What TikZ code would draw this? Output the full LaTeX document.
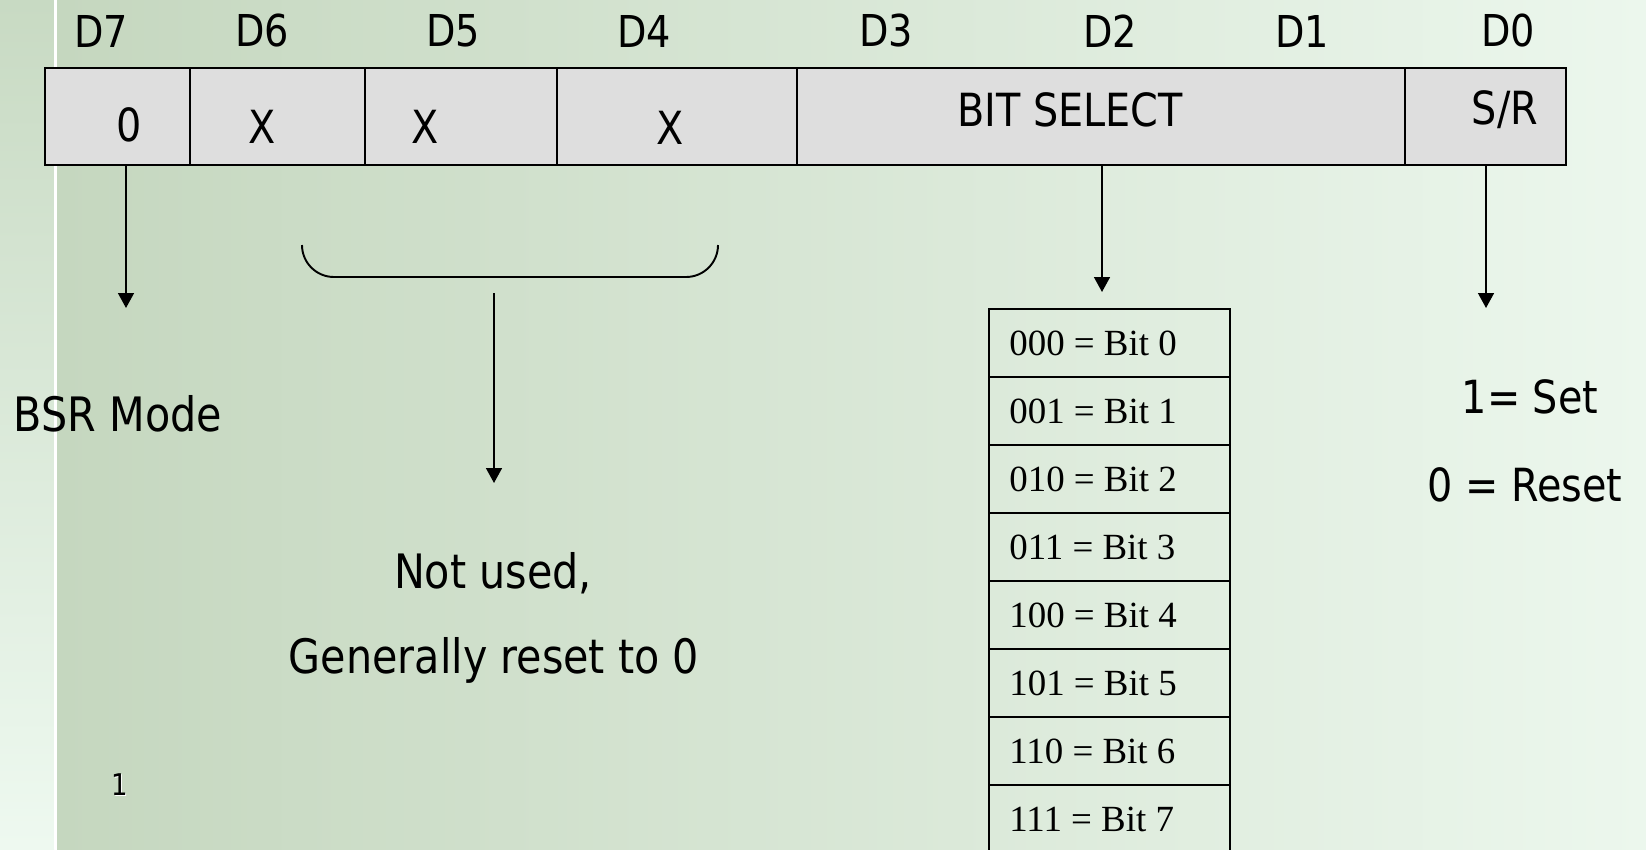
\documentclass[tikz,border=0pt]{standalone}
\usepackage{fontspec}
\setmainfont[FakeStretch=0.87]{DejaVu Sans}
\newfontfamily\tabfont{Liberation Serif}
\usetikzlibrary{arrows.meta,positioning}

\definecolor{bgL}{RGB}{197,215,191}
\definecolor{bgM}{RGB}{212,228,206}
\definecolor{bgR}{RGB}{236,247,237}
\definecolor{stripTop}{RGB}{200,218,195}
\definecolor{stripBot}{RGB}{238,249,240}
\definecolor{cellgray}{RGB}{222,222,222}

\tikzset{
  cell/.style={draw, line width=1.3pt, fill=cellgray, anchor=north west,
    inner sep=0pt, outer sep=0pt, minimum height=1.94cm},
  rowbox/.style={draw, line width=1.3pt, anchor=north west, inner sep=0pt,
    outer sep=0pt, minimum width=4.82cm, minimum height=1.36cm},
  bitlbl/.style={font=\fontsize{25pt}{30pt}\selectfont, inner sep=0pt},
  celltxt/.style={font=\fontsize{26pt}{31pt}\selectfont, inner sep=0pt},
  bigtxt/.style={font=\fontsize{27pt}{32pt}\selectfont, inner sep=0pt},
  rowtxt/.style={font=\tabfont\fontsize{21pt}{25pt}\selectfont, inner sep=0pt, anchor=west},
  arr/.style={-{Triangle[length=8.5pt,width=9pt]}, line width=1.1pt},
}

\begin{document}
\begin{tikzpicture}[x=0.02cm, y=-0.02cm]
\useasboundingbox (0,0) rectangle (1646,849);
\clip (0,0) rectangle (1646,849);

% background
\shade[left color=bgL, middle color=bgM, right color=bgR] (57,0) rectangle (1646,849);
\shade[top color=stripTop, bottom color=stripBot] (0,0) rectangle (54,849);
\fill[white] (54,0) rectangle (57,849);

% bit names
\foreach \name/\xpos in {D7/101, D6/262, D5/453, D4/644, D3/886, D2/1110, D1/1302, D0/1508}
  \node[bitlbl] (lbl\name) at (\xpos,31) {\name};

% control word
\node[cell, minimum width=2.9cm] (b7) at (45,68) {};
\node[cell, minimum width=3.5cm] (b6) at (b7.north east) {};
\node[cell, minimum width=3.84cm] (b5) at (b6.north east) {};
\node[cell, minimum width=4.8cm] (b4) at (b5.north east) {};
\node[cell, minimum width=12.16cm] (bsel) at (b4.north east) {};
\node[cell, minimum width=3.22cm] (b0) at (bsel.north east) {};

\node[celltxt] (t7) at (129,125) {0};
\node[celltxt] (t6) at (262,127) {X};
\node[celltxt] (t5) at (425,127) {X};
\node[celltxt] (t4) at (670,128) {X};
\node[celltxt] (tsel) at (1070,110) {BIT SELECT};
\node[celltxt] (t0) at (1505,110) {S/R};

% D7
\coordinate (bsrtip) at (126,308);
\draw[arr] (b7.south -| bsrtip) -- (bsrtip);
\node[bigtxt] (bsr) at (118,414) {BSR Mode};

% D6-D4
\coordinate (brL) at (302,245);
\coordinate (brR) at (718,245);
\draw[line width=1.1pt, rounded corners=0.64cm] (brL) |- (510,277) -| (brR);
\coordinate (stemtop) at (494,293);
\coordinate (stemtip) at (494,483);
\draw[arr] (stemtop) -- (stemtip);
\node[bigtxt] (notused) at (493,573) {Not used,};
\node[bigtxt] (reset) at (494,660) {Generally reset to 0};

% D3-D1
\coordinate (seltip) at (1102,292);
\draw[arr] (bsel.south -| seltip) -- (seltip);
\foreach \code [count=\i from 0] in {000,001,010,011,100,101,110,111} {
  \node[rowbox] (row\i) at (989,{309+68*\i}) {};
  \node[rowtxt] (code\i) at ([xshift=0.4cm]row\i.west) {\code{} = Bit \i};
}

% D0
\coordinate (srtip) at (1486,308);
\draw[arr] (b0.south -| srtip) -- (srtip);
\node[celltxt] (set) at (1530,397) {1= Set};
\node[celltxt] (rst) at (1525,485) {0 = Reset};

% page number
\node[font=\fontsize{17pt}{20pt}\selectfont, text=white, inner sep=0pt] (pgsh) at (121,786) {1};
\node[font=\fontsize{17pt}{20pt}\selectfont, inner sep=0pt] (pg) at (120,785) {1};
\end{tikzpicture}
\end{document}
